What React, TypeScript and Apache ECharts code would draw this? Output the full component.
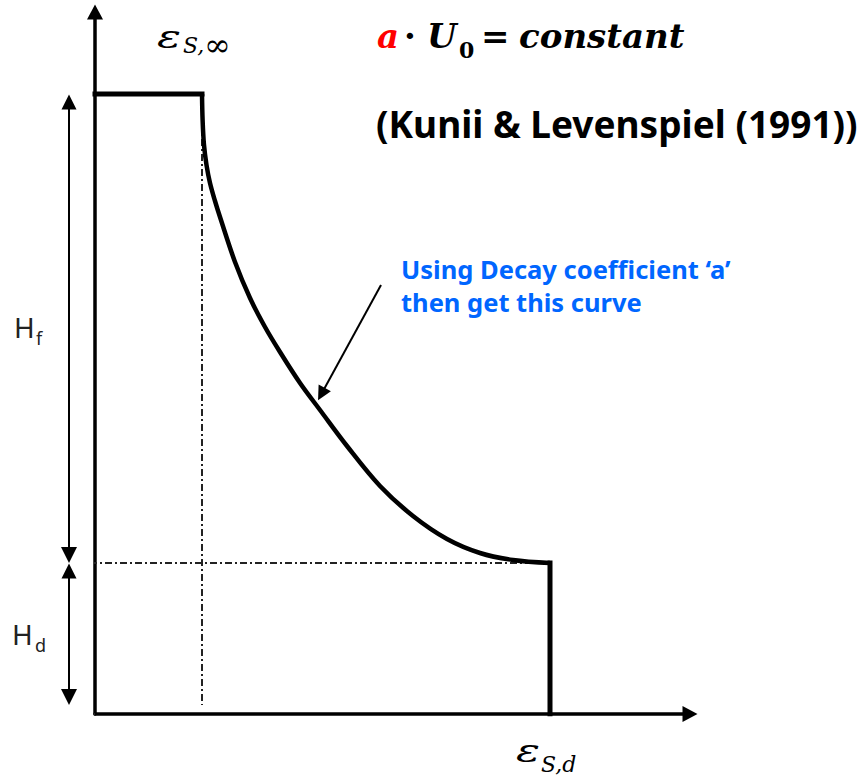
import React, { useEffect, useRef } from "react";
import * as echarts from "echarts";

// Levels (chart units: 1 unit = 100 px)
const bedTop = 6.2; // top of H_f
const denseTop = 1.51; // top of H_d
const epsInf = 1.07; // ε_s,∞
const epsDense = 4.55; // ε_s,d
const guideStart = -0.8;
const dimX = -0.26;

// Decay curve
const curveX = [1.07, 1.076, 1.09, 1.115, 1.15, 1.2, 1.25, 1.4, 1.55, 1.7, 1.85, 2.05, 2.25, 2.52, 2.85, 3.18, 3.52, 3.85, 4.18, 4.55];
const curveY = [6.2, 5.94, 5.69, 5.49, 5.31, 5.13, 4.97, 4.52, 4.16, 3.87, 3.62, 3.31, 3.04, 2.68, 2.28, 1.98, 1.75, 1.61, 1.54, 1.51];

// Annotation arrow (from text toward curve)
const noteFrom = [2.86, 4.29];
const noteTo = [2.264, 3.2];

export default function App() {
  const ref = useRef<HTMLDivElement>(null);
  useEffect(() => {
    if (!ref.current) return;
    const chart = echarts.init(ref.current, undefined, { renderer: "svg" });
    const dash = { type: [7, 3, 2, 3] as any, width: 2, color: "#222" };
    const guide = (data: number[][]) => ({
      type: "line",
      data,
      showSymbol: false,
      clip: false,
      silent: true,
      lineStyle: dash,
      z: 1,
    });
    const curve = curveX.map((x, i) => [x, curveY[i]]);
    const dv = '"DejaVu Serif", serif';
    const sans = '"Noto Sans", sans-serif';
    const t = (x: number, y: number, text: string, font: string, fill = "#000", scaleX = 1) => ({
      type: "text",
      x,
      y,
      scaleX,
      style: { text, font, fill, verticalAlign: "middle", align: "left" },
    });
    chart.setOption({
      animation: false,
      grid: { left: 95, right: 174, top: 12, bottom: 65, containLabel: false },
      xAxis: {
        type: "value",
        min: 0,
        max: 5.95,
        axisLine: {
          lineStyle: { color: "#000", width: 3.5 },
          symbol: ["none", "triangle"],
          symbolSize: [16, 15],
        },
        axisTick: { show: false },
        axisLabel: { show: false },
        splitLine: { show: false },
      },
      yAxis: {
        type: "value",
        min: 0,
        max: 7.02,
        axisLine: {
          show: true,
          lineStyle: { color: "#000", width: 3.5 },
          symbol: ["none", "triangle"],
          symbolSize: [16, 15],
        },
        axisTick: { show: false },
        axisLabel: { show: false },
        splitLine: { show: false },
      },
      series: [
        guide([[guideStart, bedTop], [0, bedTop]]),
        guide([[guideStart, denseTop], [epsDense, denseTop]]),
        guide([[guideStart, 0], [0, 0]]),
        guide([[epsInf, bedTop], [epsInf, 0.09]]),
        {
          type: "line",
          data: [[0, bedTop], [epsInf, bedTop]],
          showSymbol: false,
          lineStyle: { color: "#000", width: 5, cap: "square" },
          z: 3,
        },
        {
          type: "line",
          data: curve,
          smooth: 0.35,
          showSymbol: false,
          lineStyle: { color: "#000", width: 4.5 },
          z: 3,
        },
        {
          type: "line",
          data: [[epsDense, denseTop], [epsDense, 0]],
          showSymbol: false,
          lineStyle: { color: "#000", width: 5, cap: "square" },
          z: 3,
        },
        {
          type: "lines",
          coordinateSystem: "cartesian2d",
          clip: false,
          symbol: ["triangle", "triangle"],
          symbolSize: [15, 16],
          lineStyle: { color: "#000", width: 2, opacity: 1 },
          data: [
            { coords: [[dimX, bedTop - 0.08], [dimX, denseTop + 0.08]] },
            { coords: [[dimX, denseTop - 0.08], [dimX, 0.17]] },
          ],
          z: 4,
        },
        {
          type: "lines",
          coordinateSystem: "cartesian2d",
          clip: false,
          symbol: ["none", "triangle"],
          symbolSize: [12, 14],
          lineStyle: { color: "#000", width: 2, opacity: 1 },
          data: [{ coords: [noteFrom, noteTo] }],
          z: 4,
        },
      ],
      graphic: [
        t(157, 37, "ε", `italic 32px ${dv}`, "#000", 1.4),
        t(183, 45, "S,", `italic 22px ${dv}`),
        t(204, 45, "∞", `32px ${dv}`),
        t(516, 751, "ε", `italic 32px ${dv}`, "#000", 1.4),
        t(541, 764, "S,d", `italic 22px ${dv}`),
        t(377, 36, "a", `italic bold 34px ${dv}`, "#ff0000"),
        t(404, 36, "·", `bold 34px ${dv}`),
        t(427, 36, "U", `italic bold 34px ${dv}`),
        t(459, 50, "0", `bold 22px ${dv}`),
        t(481, 36, "=", `bold 34px ${dv}`),
        t(519, 36, "constant", `italic bold 34px ${dv}`),
        t(376, 123, "(Kunii & Levenspiel (1991))", `bold 37px ${sans}`),
        t(401, 269, "Using Decay coefficient \u2018a\u2019", `bold 25.5px ${sans}`, "#0066ff"),
        t(401, 302, "then get this curve", `bold 25.5px ${sans}`, "#0066ff"),
        t(14, 327, "H", `28px ${sans}`, "#222"),
        t(36, 338, "f", `18px ${sans}`, "#222"),
        t(12, 634, "H", `28px ${sans}`, "#222"),
        t(35, 645, "d", `18px ${sans}`, "#222"),
      ],
    });
    return () => chart.dispose();
  }, []);
  return (
    <div
      ref={ref}
      style={{ position: "fixed", left: 0, top: 0, width: 864, height: 779, background: "#fff" }}
    />
  );
}
